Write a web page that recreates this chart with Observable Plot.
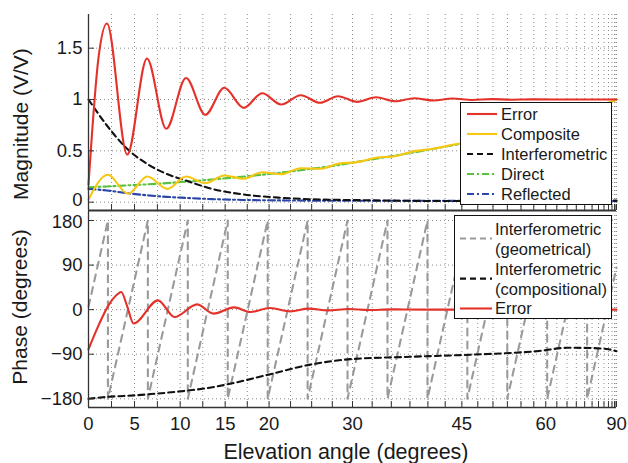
<!DOCTYPE html>
<html><head><meta charset="utf-8">
<script src="https://cdn.jsdelivr.net/npm/d3@7"></script>
<script src="https://cdn.jsdelivr.net/npm/@observablehq/plot@0.6"></script>
<style>
body{margin:0;background:#fff;}
#wrap{position:relative;width:628px;height:463px;font-family:"Liberation Sans",Arial,Helvetica,sans-serif;color:#1a1a1a;overflow:hidden;background:#fff}
#top,#bot{position:absolute;left:0}
#top{top:0}
#bot{top:211px}
.ytitle{position:absolute;font-size:21px;white-space:nowrap;transform:translate(-50%,-50%) rotate(-90deg);}
.xtitle{position:absolute;font-size:21.5px;white-space:nowrap;transform:translate(-50%,-50%);}
.legend{position:absolute;background:#fff;border:1px solid #111;box-sizing:border-box;}
.legend svg{display:block}
</style>
</head><body>
<div id="wrap">
  <div id="top"></div>
  <div id="bot"></div>
  <div class="ytitle" style="left:21px;top:124px">Magnitude (V/V)</div>
  <div class="ytitle" style="left:20px;top:307px">Phase (degrees)</div>
  <div class="xtitle" style="left:346px;top:452px">Elevation angle (degrees)</div>
  <div id="leg1" class="legend" style="left:460px;top:102px;width:152px;height:103px"></div>
  <div id="leg2" class="legend" style="left:454px;top:215px;width:158px;height:104px"></div>
</div>
<script>
// ---------- data ----------
// x ticks (degrees of elevation)
const xTickLabels = [0, 5, 10, 15, 20, 30, 45, 60, 90];
const magTicks = [0, 0.5, 1, 1.5];
const phaseTicks = [-180, -90, 0, 90, 180];

// Magnitude panel
const errMagDeg = [0, 1.09, 2.0, 4.21, 6.36, 8.47, 10.64, 12.78, 14.9, 17.1, 19.2, 21.4, 23.7, 26.0, 28.2, 30.6, 33.0, 35.5, 38.1, 40.8, 43.6, 46.6, 49.8, 53.3, 57, 62, 90];
const errMag    = [0.17, 1.41, 1.74, 0.464, 1.40, 0.715, 1.21, 0.851, 1.114, 0.919, 1.061, 0.951, 1.042, 0.968, 1.032, 0.977, 1.022, 0.983, 1.013, 0.99, 1.01, 0.995, 1.004, 0.998, 1.001, 1.0, 1.0];

const compMagDeg = [0, 2.1, 4.28, 6.4, 8.6, 10.64, 12.78, 14.9, 17.1, 19.2, 21.4, 23.7, 26.0, 28.2, 30.6, 33.0, 35.5, 38.1, 40.8, 43.6, 46.0, 50, 55, 60, 65, 70, 75, 80, 85, 90];
const compMag    = [0.026, 0.267, 0.082, 0.25, 0.13, 0.25, 0.185, 0.26, 0.228, 0.292, 0.273, 0.331, 0.325, 0.374, 0.39, 0.432, 0.448, 0.497, 0.52, 0.559, 0.584, 0.64, 0.705, 0.775, 0.835, 0.89, 0.935, 0.97, 0.99, 1.0];

const directDeg = [0, 2, 4, 6, 8, 10, 12, 14, 16, 18, 20, 22, 24, 26, 28, 30, 33, 36, 39, 42, 45, 50, 55, 60, 65, 70, 75, 80, 85, 90];
const directMag = [0.146, 0.153, 0.163, 0.172, 0.182, 0.196, 0.209, 0.224, 0.24, 0.257, 0.275, 0.294, 0.315, 0.336, 0.358, 0.385, 0.423, 0.46, 0.497, 0.535, 0.57, 0.635, 0.70, 0.77, 0.83, 0.885, 0.93, 0.965, 0.99, 1.0];

const reflDeg = [0, 2, 4.2, 6.4, 8.5, 10.6, 13.5, 17, 22, 30, 45, 60, 90];
const reflMag = [0.13, 0.114, 0.088, 0.067, 0.052, 0.042, 0.03, 0.022, 0.017, 0.014, 0.013, 0.012, 0.012];

const interfDeg = [0, 2.0, 4.2, 6.36, 8.47, 10.64, 13.5, 17.1, 21.4, 26, 30.6, 35.5, 43.6, 60, 90];
const interfMag = [1.0, 0.747, 0.52, 0.374, 0.277, 0.211, 0.13, 0.075, 0.043, 0.026, 0.02, 0.015, 0.011, 0.012, 0.015];

// Phase panel
const errPhDeg = [0, 1.09, 2.17, 3.08, 3.55, 4.17, 4.9, 7.56, 9.38, 11.86, 13.7, 16.0, 17.85, 20.1, 22.5, 24.6, 27, 29.5, 32, 35, 40, 90];
const errPh    = [-80, -31.7, 8.7, 30, 35.5, 8.7, -28, 18.8, -14.9, 10.7, -8, 4.6, -4.8, 3.3, -3.4, 2, -1.5, 1.2, -0.8, 0.5, 0, 0];

const compPhDeg = [0, 2.17, 5.08, 7.45, 10.0, 13.82, 15.21, 19.77, 24.85, 29.74, 36.67, 46.62, 58.55, 65.1, 72, 80, 86.9, 90];
const compPh    = [-180, -176, -173, -169.5, -165, -156, -151, -132, -111, -100, -95.6, -90.8, -83.5, -77, -77.5, -80, -83.5, -84];

const geoDeg = [0, 2.108, 2.108, 6.456, 6.456, 10.84, 10.84, 15.29, 15.29, 19.84, 19.84, 24.52, 24.52, 29.38, 29.38, 34.49, 34.49, 39.94, 39.94, 45.85, 45.85, 52.48, 52.48, 60.31, 60.31, 70.80, 70.80, 90];
const geoPh  = [6, 180, -180, 180, -180, 180, -180, 180, -180, 180, -180, 180, -180, 180, -180, 180, -180, 180, -180, 180, -180, 180, -180, 180, -180, 180, -180, 85];

// ---------- styling ----------
const FONT = '"Liberation Sans", Arial, Helvetica, sans-serif';
const C = {red: "#e4322b", gold: "#f5c712", green: "#58c03c", blue: "#2b45a8", black: "#111", gray: "#9a9a9a", grid: "#8c8c8c", axis: "#333"};
const rad = Math.PI / 180;
const sx = d => Math.sin(d * rad);           // elevation axis is linear in sin(elevation)
const gridDeg = d3.range(0, 90.001, 2.5);
const minusFmt = d => d < 0 ? "\u2212" + (-d) : String(d);
const rows = (a, v) => a.map((x, i) => ({a: x, v: v[i]}));
const series = (a, v, o) => Plot.line(rows(a, v), {x: d => sx(d.a), y: "v", strokeWidth: 2.1, ...o});

const W = 628, ML = 88, MR = 12;
const innerW = W - ML - MR;
const TICKFS = 18.5;
const yAxis = (ticks, dy) => Plot.axisY({ticks, tickSize: 0, tickPadding: 6, tickFormat: minusFmt, label: null, fontSize: TICKFS, dy});

// ---------- top (magnitude) ----------
const magDom = [-0.081, 1.828];
const topH = 212, topMT = 14, topMB = 2;
const topPlot = Plot.plot({
  width: W, height: topH, marginLeft: ML, marginRight: MR, marginTop: topMT, marginBottom: topMB,
  style: {fontFamily: FONT, fontSize: TICKFS + "px", color: "#1a1a1a", background: "transparent", overflow: "visible"},
  x: {domain: [0, 1], axis: null},
  y: {domain: magDom},
  marks: [
    Plot.ruleX(gridDeg.slice(1), {x: sx, stroke: C.grid, strokeWidth: 1, strokeDasharray: "1,3"}),
    Plot.ruleY(magTicks, {y: d => d, stroke: C.grid, strokeWidth: 1, strokeDasharray: "1,3"}),
    series(reflDeg, reflMag, {stroke: C.blue, strokeDasharray: "7,3,2,3", curve: "monotone-x"}),
    series(directDeg, directMag, {stroke: C.green, strokeDasharray: "7,3,2,3", curve: "monotone-x"}),
    series(interfDeg, interfMag, {stroke: C.black, strokeDasharray: "6,4", curve: "monotone-x"}),
    series(compMagDeg, compMag, {stroke: C.gold, curve: "monotone-x"}),
    series(errMagDeg, errMag, {stroke: C.red, curve: "monotone-x"}),
    Plot.tickX(gridDeg, {x: sx, stroke: C.axis, strokeWidth: 1, insetTop: topH - topMT - topMB - 6}),
    Plot.tickY(magTicks, {y: d => d, stroke: C.axis, strokeWidth: 1, insetRight: innerW - 6}),
    Plot.ruleX([0], {stroke: C.axis, strokeWidth: 1.3}),
    Plot.ruleY([magDom[0]], {stroke: C.axis, strokeWidth: 1.8}),
    yAxis(magTicks.slice(1), 0),
    yAxis(magTicks.slice(0, 1), -2.5)
  ]
});
document.getElementById("top").appendChild(topPlot);

// ---------- bottom (phase) ----------
const phDom = [-197.6, 198.2];
const botH = 252, botMT = 0, botMB = 56;
const botPlot = Plot.plot({
  width: W, height: botH, marginLeft: ML, marginRight: MR, marginTop: botMT, marginBottom: botMB,
  style: {fontFamily: FONT, fontSize: TICKFS + "px", color: "#1a1a1a", background: "transparent", overflow: "visible"},
  x: {domain: [0, 1]},
  y: {domain: phDom},
  marks: [
    Plot.ruleX(gridDeg.slice(1), {x: sx, stroke: C.grid, strokeWidth: 1, strokeDasharray: "1,3"}),
    Plot.ruleY(phaseTicks, {y: d => d, stroke: C.grid, strokeWidth: 1, strokeDasharray: "1,3"}),
    series(geoDeg, geoPh, {stroke: C.gray, strokeDasharray: "7,6", curve: "linear"}),
    series(compPhDeg, compPh, {stroke: C.black, strokeDasharray: "6,4", curve: "monotone-x"}),
    series(errPhDeg, errPh, {stroke: C.red, curve: "monotone-x"}),
    Plot.tickX(gridDeg, {x: sx, stroke: C.axis, strokeWidth: 1, insetTop: botH - botMT - botMB - 6}),
    Plot.tickY(phaseTicks, {y: d => d, stroke: C.axis, strokeWidth: 1, insetRight: innerW - 6}),
    Plot.ruleX([0], {stroke: C.axis, strokeWidth: 1.3}),
    Plot.ruleY([phDom[0]], {stroke: C.axis, strokeWidth: 1.3}),
    yAxis(phaseTicks.slice(0, 4), 0),
    yAxis(phaseTicks.slice(4), 2),
    Plot.axisX({ticks: xTickLabels.map(sx), tickSize: 0, tickPadding: 9, label: null, fontSize: TICKFS,
      tickFormat: d => String(Math.round(Math.asin(Math.min(1, d)) / rad))})
  ]
});
document.getElementById("bot").appendChild(botPlot);

// ---------- legends ----------
function legend(id, w, h, entries) {
  const svg = d3.select("#" + id).append("svg").attr("width", w).attr("height", h)
    .style("font-family", FONT).style("font-size", "16.5px");
  for (const e of entries) {
    svg.append("line").attr("x1", e.x1).attr("x2", e.x2).attr("y1", e.sy).attr("y2", e.sy)
      .attr("stroke", e.color).attr("stroke-width", 2.1).attr("stroke-dasharray", e.dash || null);
    e.lines.forEach((t, k) => svg.append("text").attr("x", e.tx).attr("y", e.ty[k]).attr("dy", "0.35em")
      .attr("fill", "#1a1a1a").text(t));
  }
}
const leg1Labels = ["Error", "Composite", "Interferometric", "Direct", "Reflected"];
const leg1Colors = [C.red, C.gold, C.black, C.green, C.blue];
const leg1Dash = [null, null, "6,4", "7,3,2,3", "7,3,2,3"];
legend("leg1", 150, 101, leg1Labels.map((l, i) => ({
  lines: [l], color: leg1Colors[i], dash: leg1Dash[i], x1: 6, x2: 36, sy: 11 + 20 * i, tx: 40, ty: [11 + 20 * i]
})));
const leg2Labels = [["Interferometric", "(geometrical)"], ["Interferometric", "(compositional)"], ["Error"]];
const leg2Colors = [C.gray, C.black, C.red];
const leg2Dash = ["6,4", "6,4", null];
const leg2Y = [[13, 33.3], [53.3, 73.3], [92.5]];
legend("leg2", 156, 102, leg2Labels.map((l, i) => ({
  lines: l, color: leg2Colors[i], dash: leg2Dash[i], x1: 5, x2: 37, sy: d3.mean(leg2Y[i]) - (i < 2 ? 0.7 : 0), tx: 40, ty: leg2Y[i]
})));
</script>
</body></html>
